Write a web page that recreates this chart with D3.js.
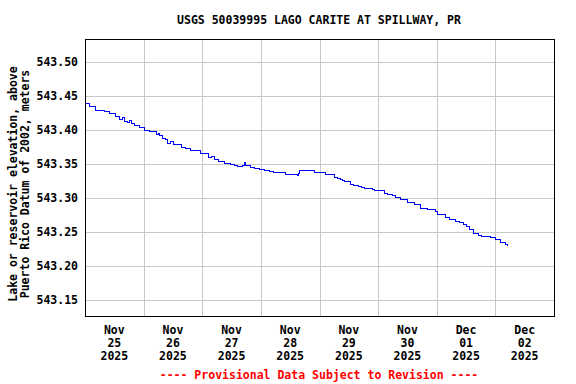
<!DOCTYPE html>
<html>
<head>
<meta charset="utf-8">
<title>USGS 50039995 LAGO CARITE AT SPILLWAY, PR</title>
<style>
  body { margin: 0; background: #fff; }
  text { font-family: "DejaVu Sans Mono", "Liberation Mono", monospace; font-weight: bold; font-size: 11.5px; }
  .grid line { stroke: #c8c8c8; stroke-width: 1; shape-rendering: crispEdges; }
</style>
</head>
<body>
<div id="chart"></div>
<script src="https://d3js.org/d3.v7.min.js"></script>
<script>
// hours after 2025-11-25 00:00 and lake elevation (m)
const hours = [0, 2.0, 4.5, 7.8, 10.2, 12.3, 14.3, 15.2, 16.0, 17.2, 18.3, 19.0, 20.1, 21.4, 22.5, 24.2, 26.6,
  29.1, 30.0, 30.6, 31.9, 33.0, 33.6, 34.8, 36.3, 38.1, 39.4, 41.3, 43.0, 45.0, 47.1,
  50.4, 51.6, 53.2, 54.5, 56.1, 57.2, 59.4, 61.0, 62.6, 64.6, 65.1, 65.9, 67.6, 69.4, 71.6,
  73.5, 75.7, 77.2, 79.8, 82.0, 83.9, 85.3, 86.8, 87.3, 88.0, 90.0, 92.1, 94.0, 96.2,
  98.4, 100.3, 102.3, 103.2, 104.4, 105.3, 106.4, 108.5, 110.0, 111.8, 113.2, 114.6, 117.5,
  118.6, 120.0, 122.8, 124.0, 125.7, 127.2, 129.0, 132.2, 134.7, 137.2, 138.6, 140.4, 143.3,
  144.5, 147.4, 149.4, 151.5, 153.5, 154.8, 156.0, 157.6, 158.9, 160.9, 162.3, 163.8, 165.8,
  167.9, 169.9, 172.0, 172.8];
const elev = [543.438, 543.434, 543.429, 543.427, 543.424, 543.420, 543.415, 543.418, 543.413, 543.411, 543.414, 543.409, 543.406, 543.407, 543.403, 543.399, 543.398,
  543.393, 543.395, 543.391, 543.388, 543.386, 543.380, 543.383, 543.379, 543.378, 543.374, 543.372, 543.370, 543.369, 543.365,
  543.359, 543.361, 543.356, 543.354, 543.353, 543.350, 543.349, 543.347, 543.346, 543.348, 543.352, 543.347, 543.344, 543.343, 543.342,
  543.340, 543.339, 543.337, 543.337, 543.335, 543.335, 543.334, 543.333, 543.336, 543.340, 543.341, 543.340, 543.338, 543.337,
  543.335, 543.334, 543.330, 543.328, 543.327, 543.325, 543.324, 543.320, 543.318, 543.317, 543.315, 543.314, 543.312,
  543.311, 543.311, 543.307, 543.305, 543.303, 543.300, 543.298, 543.294, 543.290, 543.285, 543.284, 543.283, 543.280,
  543.275, 543.271, 543.269, 543.265, 543.264, 543.261, 543.258, 543.253, 543.247, 543.245, 543.244, 543.243, 543.242,
  543.239, 543.235, 543.231, 543.230];

const yTicks = [543.15, 543.20, 543.25, 543.30, 543.35, 543.40, 543.45, 543.50];
const dayLabels = [["Nov", "25", "2025"], ["Nov", "26", "2025"], ["Nov", "27", "2025"], ["Nov", "28", "2025"],
  ["Nov", "29", "2025"], ["Nov", "30", "2025"], ["Dec", "01", "2025"], ["Dec", "02", "2025"]];

const width = 576, height = 384;
const m = { left: 85, right: 554, top: 39, bottom: 316 };
const t0 = new Date(2025, 10, 25);
const data = hours.map((h, i) => ({ t: new Date(t0.getTime() + h * 3600e3), v: elev[i] }));

const x = d3.scaleTime().domain([t0, new Date(2025, 11, 3)]).range([m.left, m.right]);
const y = d3.scaleLinear().domain([543.1265, 543.5335]).range([m.bottom, m.top]);

const svg = d3.select("#chart").append("svg").attr("width", width).attr("height", height);

const days = d3.timeDay.range(t0, new Date(2025, 11, 4));
const grid = svg.append("g").attr("class", "grid");
grid.selectAll(".v").data(days.slice(1, -1)).enter().append("line")
  .attr("x1", d => Math.round(x(d)) + 0.5).attr("x2", d => Math.round(x(d)) + 0.5)
  .attr("y1", m.top).attr("y2", m.bottom);
grid.selectAll(".h").data(yTicks).enter().append("line")
  .attr("x1", m.left).attr("x2", m.right)
  .attr("y1", d => Math.round(y(d)) + 0.5).attr("y2", d => Math.round(y(d)) + 0.5);

svg.append("path").datum(data)
  .attr("fill", "none").attr("stroke", "#0000ff").attr("stroke-width", 1)
  .attr("shape-rendering", "crispEdges")
  .attr("d", d3.line().curve(d3.curveStepAfter).x(d => x(d.t)).y(d => y(d.v)));

svg.append("rect").attr("x", m.left + 0.5).attr("y", m.top + 0.5)
  .attr("width", m.right - m.left).attr("height", m.bottom - m.top)
  .attr("fill", "none").attr("stroke", "#000").attr("stroke-width", 1);

// y tick labels
svg.selectAll(".yl").data(yTicks).enter().append("text")
  .attr("x", 78).attr("y", d => y(d)).attr("dy", "0.35em")
  .attr("text-anchor", "end").text(d => d.toFixed(2));

// x tick labels centred at noon
dayLabels.forEach((lines, i) => {
  const cx = x(new Date(t0.getTime() + (i + 0.5) * 864e5));
  lines.forEach((s, j) => {
    svg.append("text").attr("x", cx).attr("y", 334 + j * 13)
      .attr("text-anchor", "middle").text(s);
  });
});

svg.append("text").attr("x", 319).attr("y", 24).attr("text-anchor", "middle")
  .text("USGS 50039995 LAGO CARITE AT SPILLWAY, PR");

const yt = svg.append("text").attr("transform", "translate(17,184) rotate(-90)")
  .attr("text-anchor", "middle");
yt.append("tspan").attr("x", 0).attr("dy", 0).text("Lake or reservoir elevation, above");
yt.append("tspan").attr("x", 0).attr("dy", 12).text("Puerto Rico Datum of 2002, meters");

svg.append("text").attr("x", 319).attr("y", 379).attr("text-anchor", "middle")
  .attr("fill", "#ff0000").text("---- Provisional Data Subject to Revision ----");
</script>
</body>
</html>
